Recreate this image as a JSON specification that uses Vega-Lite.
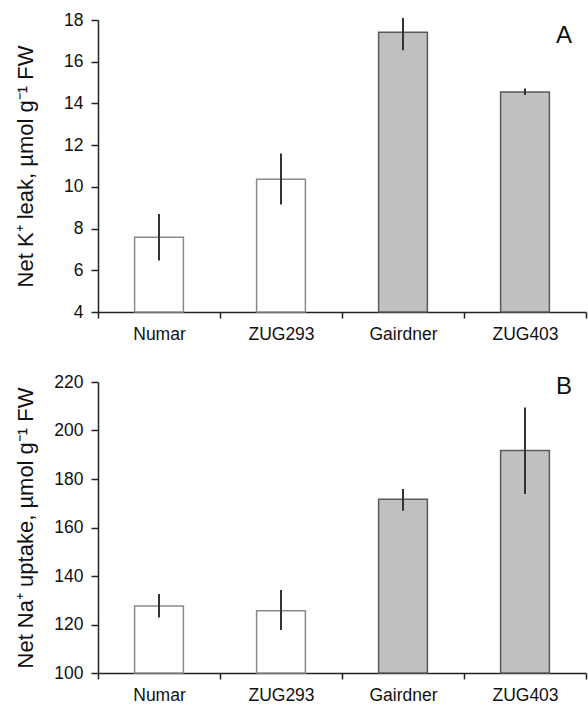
{
  "$schema": "https://vega.github.io/schema/vega-lite/v6.json",
  "padding": {"left": 13, "top": 11, "right": 3, "bottom": 0},
  "spacing": 30,
  "config": {
    "font": "Liberation Sans",
    "view": {"stroke": null},
    "axis": {
      "domainColor": "#222",
      "domainWidth": 1.5,
      "tickColor": "#222",
      "tickWidth": 1.5,
      "labelColor": "#111",
      "labelFontSize": 17.5,
      "labelFont": "Liberation Sans",
      "titleFont": "Liberation Sans",
      "titleFontSize": 22,
      "titleFontWeight": "normal",
      "titleColor": "#111",
      "grid": false
    }
  },
  "vconcat": [
    {
      "width": 488,
      "height": 292,
      "data": {"values": [
        {"genotype": "Numar", "class": "low", "value": 7.58, "lo": 6.47, "hi": 8.7},
        {"genotype": "ZUG293", "class": "low", "value": 10.36, "lo": 9.15, "hi": 11.6},
        {"genotype": "Gairdner", "class": "high", "value": 17.41, "lo": 16.55, "hi": 18.1},
        {"genotype": "ZUG403", "class": "high", "value": 14.55, "lo": 14.4, "hi": 14.72}
      ]},
      "encoding": {
        "x": {
          "field": "genotype", "type": "nominal", "sort": null,
          "scale": {"paddingInner": 0, "paddingOuter": 0},
          "axis": {"title": null, "labelAngle": 0, "tickBand": "extent", "tickSize": 6, "labelPadding": 7}
        }
      },
      "layer": [
        {
          "mark": {"type": "bar", "width": {"band": 0.4}, "strokeWidth": 1.5},
          "encoding": {
            "y": {
              "field": "value", "type": "quantitative",
              "scale": {"domain": [4, 18], "nice": false, "zero": false},
              "axis": {"title": "Net K⁺ leak, µmol g⁻¹ FW", "values": [4, 6, 8, 10, 12, 14, 16, 18], "tickSize": 7, "labelPadding": 8, "minExtent": 52, "maxExtent": 52, "titlePadding": 9}
            },
            "y2": {"datum": 4},
            "fill": {"field": "class", "type": "nominal", "scale": {"domain": ["low", "high"], "range": ["#ffffff", "#c0c0c0"]}, "legend": null},
            "stroke": {"field": "class", "type": "nominal", "scale": {"domain": ["low", "high"], "range": ["#8a8a8a", "#5a5a5a"]}, "legend": null}
          }
        },
        {
          "mark": {"type": "rule", "color": "#333", "strokeWidth": 2},
          "encoding": {
            "y": {"field": "lo", "type": "quantitative"},
            "y2": {"field": "hi"}
          }
        },
        {
          "data": {"values": [{"panel": "A"}]},
          "mark": {"type": "text", "align": "right", "baseline": "alphabetic", "fontSize": 24, "dx": -14, "color": "#111"},
          "encoding": {
            "x": {"value": "width"},
            "y": {"datum": 16.9, "type": "quantitative"},
            "text": {"field": "panel"}
          }
        }
      ]
    },
    {
      "width": 488,
      "height": 291,
      "data": {"values": [
        {"genotype": "Numar", "class": "low", "value": 127.6, "lo": 122.9, "hi": 132.6},
        {"genotype": "ZUG293", "class": "low", "value": 125.7, "lo": 117.7, "hi": 134.2},
        {"genotype": "Gairdner", "class": "high", "value": 171.7, "lo": 166.9, "hi": 175.9},
        {"genotype": "ZUG403", "class": "high", "value": 191.8, "lo": 173.8, "hi": 209.5}
      ]},
      "encoding": {
        "x": {
          "field": "genotype", "type": "nominal", "sort": null,
          "scale": {"paddingInner": 0, "paddingOuter": 0},
          "axis": {"title": null, "labelAngle": 0, "tickBand": "extent", "tickSize": 6, "labelPadding": 7}
        }
      },
      "layer": [
        {
          "mark": {"type": "bar", "width": {"band": 0.4}, "strokeWidth": 1.5},
          "encoding": {
            "y": {
              "field": "value", "type": "quantitative",
              "scale": {"domain": [100, 220], "nice": false, "zero": false},
              "axis": {"title": "Net Na⁺ uptake, µmol g⁻¹ FW", "values": [100, 120, 140, 160, 180, 200, 220], "tickSize": 7, "labelPadding": 8, "minExtent": 52, "maxExtent": 52, "titlePadding": 9}
            },
            "y2": {"datum": 100},
            "fill": {"field": "class", "type": "nominal", "scale": {"domain": ["low", "high"], "range": ["#ffffff", "#c0c0c0"]}, "legend": null},
            "stroke": {"field": "class", "type": "nominal", "scale": {"domain": ["low", "high"], "range": ["#8a8a8a", "#5a5a5a"]}, "legend": null}
          }
        },
        {
          "mark": {"type": "rule", "color": "#333", "strokeWidth": 2},
          "encoding": {
            "y": {"field": "lo", "type": "quantitative"},
            "y2": {"field": "hi"}
          }
        },
        {
          "data": {"values": [{"panel": "B"}]},
          "mark": {"type": "text", "align": "right", "baseline": "alphabetic", "fontSize": 24, "dx": -14, "color": "#111"},
          "encoding": {
            "x": {"value": "width"},
            "y": {"datum": 215.2, "type": "quantitative"},
            "text": {"field": "panel"}
          }
        }
      ]
    }
  ]
}
